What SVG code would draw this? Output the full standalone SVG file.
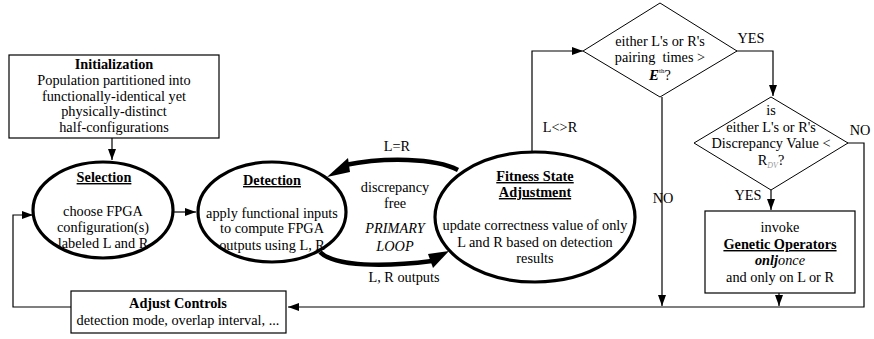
<svg xmlns="http://www.w3.org/2000/svg" width="874" height="339" viewBox="0 0 874 339" font-family="'Liberation Serif', 'Times New Roman', serif">
<style>
text{font-family:'Liberation Serif','Times New Roman',serif;font-size:14.3px;fill:#000;text-anchor:middle}
.b{font-weight:bold}
.u{text-decoration:underline}
.i{font-style:italic}
.box{fill:#fff;stroke:#000;stroke-width:1.2}
.ell{fill:#fff;stroke:#000;stroke-width:3.2}
.dia{fill:#fff;stroke:#000;stroke-width:1}
.ln{fill:none;stroke:#000;stroke-width:1.2}
.thick{fill:none;stroke:#000;stroke-width:4.5}
</style>
<defs>
<marker id="ah" markerUnits="userSpaceOnUse" markerWidth="12" markerHeight="10" refX="11" refY="5" orient="auto">
<path d="M0,1 L11,5 L0,9 Z" fill="#000"/>
</marker>
</defs>
<rect width="874" height="339" fill="#fff"/>
<g id="connectors">
<path class="ln" d="M112,138 V160" marker-end="url(#ah)"/>
<path class="ln" d="M173,212 H196" marker-end="url(#ah)"/>
<path class="ln" d="M71,307 H13 V215 H33" marker-end="url(#ah)"/>
<path class="ln" d="M847,143 H864 V307 H288" marker-end="url(#ah)"/>
<path class="ln" d="M532,152 V51 H583" marker-end="url(#ah)"/>
<path class="ln" d="M736,51 H773 V96" marker-end="url(#ah)"/>
<path class="ln" d="M662,97 V306" marker-end="url(#ah)"/>
<path class="ln" d="M771,190 V210" marker-end="url(#ah)"/>
<path class="ln" d="M779,293 V306" marker-end="url(#ah)"/>
<path class="thick" d="M458,170 C435,158 385,157 345,165"/>
<path d="M327,177 L348,158 L350,172 Z" fill="#000"/>
<path class="thick" d="M320,252 C335,267 385,267 432,261"/>
<path d="M449,251 L428,254 L433,268 Z" fill="#000"/>
<text x="397" y="151">L=R</text>
<text x="404" y="282">L, R outputs</text>
<text x="395" y="192">discrepancy</text>
<text x="395" y="208">free</text>
<text x="395" y="233" class="i">PRIMARY</text>
<text x="395" y="251" class="i">LOOP</text>
<text x="560" y="132">L&lt;&gt;R</text>
<text x="751" y="43">YES</text>
<text x="860" y="135">NO</text>
<text x="748" y="200">YES</text>
<text x="663" y="203">NO</text>
</g>
<g id="initialization">
<rect class="box" x="9" y="55" width="210" height="83"/>
<text x="114" y="69" class="b">Initialization</text>
<text x="114" y="85">Population partitioned into</text>
<text x="114" y="101">functionally-identical yet</text>
<text x="114" y="116">physically-distinct</text>
<text x="114" y="132">half-configurations</text>
</g>
<g id="selection">
<ellipse class="ell" cx="103" cy="210" rx="70" ry="48"/>
<text x="104" y="182" class="b u">Selection</text>
<text x="103" y="216">choose FPGA</text>
<text x="103" y="232">configuration(s)</text>
<text x="103" y="248">labeled L and R</text>
</g>
<g id="detection">
<ellipse class="ell" cx="272" cy="212" rx="74" ry="50"/>
<text x="272" y="185" class="b u">Detection</text>
<text x="272" y="218">apply functional inputs</text>
<text x="272" y="233">to compute FPGA</text>
<text x="272" y="250">outputs using L, R</text>
</g>
<g id="fitness">
<ellipse class="ell" cx="535" cy="217" rx="100" ry="65"/>
<text x="535" y="181" class="b u">Fitness State</text>
<text x="535" y="197" class="b u">Adjustment</text>
<text x="535" y="230">update correctness value of only</text>
<text x="535" y="247">L and R based on detection</text>
<text x="535" y="263">results</text>
</g>
<g id="pairing">
<polygon class="dia" points="660,3 737,51 660,97 583,51"/>
<text x="660" y="46">either L's or R's</text>
<text x="660" y="62" xml:space="preserve">pairing  times &gt;</text>
<text x="660" y="80"><tspan class="b i" font-size="15">E</tspan><tspan font-size="7" dy="-7">th</tspan><tspan dy="7">?</tspan></text>
</g>
<g id="discrepancy">
<polygon class="dia" points="771,97 848,143 771,190 694,143"/>
<text x="771" y="115">is</text>
<text x="771" y="132">either L's or R's</text>
<text x="771" y="148">Discrepancy Value &lt;</text>
<text x="771" y="165">R<tspan font-size="8" dy="3" class="i" style="fill:#999">DV</tspan><tspan dy="-3">?</tspan></text>
</g>
<g id="genetic">
<rect class="box" x="705" y="211" width="150" height="82"/>
<text x="780" y="232">invoke</text>
<text x="780" y="249" class="b u">Genetic Operators</text>
<text x="780" y="265"><tspan class="b i">onlj</tspan><tspan class="i">once</tspan></text>
<text x="780" y="282">and only on L or R</text>
</g>
<g id="adjust">
<rect class="box" x="71" y="291" width="215" height="42"/>
<text x="178" y="308" class="b">Adjust Controls</text>
<text x="178" y="325">detection mode, overlap interval, ...</text>
</g>
</svg>
